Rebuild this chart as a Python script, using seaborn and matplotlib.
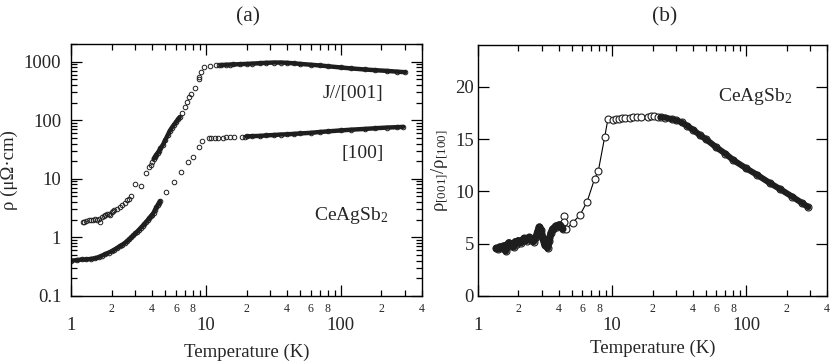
import numpy as np
import matplotlib
matplotlib.use('Agg')
import matplotlib.pyplot as plt
import matplotlib.ticker as mticker
import seaborn as sns

# ---- data ----
# panel (a): J//[001]
t001_low = [1.22, 1.25, 1.3, 1.35, 1.4, 1.45, 1.5, 1.55, 1.6, 1.65, 1.7, 1.75, 1.8,
            1.85, 1.9, 1.95, 2.0, 2.05, 2.1, 2.2, 2.3, 2.4, 2.5, 2.6, 2.7, 2.8]
r001_low = [1.85, 1.8, 1.9, 1.95, 1.95, 2.0, 2.05, 1.95, 2.1, 1.85, 2.25, 2.3, 2.4,
            2.5, 2.55, 2.45, 2.7, 2.8, 2.9, 3.05, 3.3, 3.6, 3.9, 4.3, 4.6, 5.0]
t001_gap = [2.98, 3.28, 3.57, 3.78, 3.9, 4.0]
r001_gap = [8.0, 7.45, 12.7, 15.9, 17.0, 19.0]
t001_rise = [4.1, 4.2, 4.3, 4.4, 4.5, 4.6, 4.8, 5.0, 5.2, 5.4, 5.6, 5.8, 6.0, 6.2, 6.4]
r001_rise = [22, 24, 26, 28, 30, 33, 38, 46, 55, 66, 75, 84, 93, 103, 113]
t001_knee = [6.7, 7.0, 7.2, 7.5, 7.7, 8.3, 8.85, 8.95, 9.2, 9.7, 10.7, 11.8, 12.5]
r001_knee = [135, 170, 205, 250, 285, 355, 500, 540, 670, 800, 850, 865, 870]
t001_high = [13, 14, 15, 16, 18, 20, 22, 25, 28, 32, 36, 40, 45, 50, 60, 70, 80,
             100, 120, 150, 180, 220, 260, 300]
r001_high = [875, 885, 890, 895, 905, 915, 925, 940, 955, 965, 965, 955, 935, 915,
             885, 860, 835, 795, 765, 735, 715, 695, 675, 660]

# panel (a): [100]
t100_low = [1.0, 1.1, 1.2, 1.3, 1.4, 1.5, 1.6, 1.7, 1.8, 1.9, 2.0, 2.1, 2.2, 2.3,
            2.4, 2.5, 2.6, 2.7, 2.8, 2.9, 3.0, 3.1, 3.2, 3.3, 3.4, 3.5, 3.6, 3.7,
            3.8, 3.9, 4.0, 4.1, 4.2, 4.3, 4.4, 4.5, 4.56]
r100_low = [0.40, 0.41, 0.42, 0.42, 0.43, 0.44, 0.46, 0.49, 0.52, 0.55, 0.58, 0.62,
            0.66, 0.71, 0.75, 0.80, 0.86, 0.93, 1.0, 1.08, 1.17, 1.26, 1.36, 1.47,
            1.58, 1.70, 1.83, 1.97, 2.12, 2.28, 2.45, 2.65, 2.95, 3.25, 3.6, 3.9, 4.15]
t100_gap = [5.08, 5.79, 6.5, 7.4, 7.96, 8.9, 9.4, 10.5, 11.0, 11.6, 12.3, 13.5,
            14.2, 15.0, 16.2, 18.4, 19.5]
r100_gap = [5.9, 8.7, 13, 19.4, 23.6, 35, 44, 49, 50, 50, 50, 50.5, 51, 51, 51.5,
            52, 52.5]
t100_high = [20, 22, 25, 28, 32, 36, 40, 45, 50, 60, 70, 80, 100, 120, 150, 180,
             220, 260, 290]
r100_high = [53, 53.5, 54, 55, 56, 57, 57.5, 58.5, 59.5, 61, 63, 64.5, 67, 69, 71,
             73, 75, 76, 77]

# panel (b): rho[001]/rho[100]
tb_low = [1.37, 1.42, 1.45, 1.5, 1.55, 1.61, 1.65, 1.7, 1.75, 1.8, 1.85, 1.9, 1.95,
          2.0, 2.1, 2.2, 2.3, 2.4, 2.5, 2.6, 2.7, 2.8, 2.87, 2.95, 3.05, 3.15, 3.31,
          3.4, 3.5, 3.6, 3.7, 3.8, 3.9, 4.0, 4.1, 4.2, 4.3]
rb_low = [4.55, 4.5, 4.7, 4.6, 4.8, 4.3, 4.9, 5.1, 4.8, 5.0, 4.7, 5.2, 5.0, 5.3,
          5.1, 5.5, 5.3, 5.6, 5.4, 5.2, 5.6, 6.2, 6.6, 6.3, 5.5, 4.9, 4.6, 5.3, 6.0,
          6.4, 6.5, 6.7, 6.6, 6.8, 6.8, 6.6, 6.4]
tb_mid = [4.35, 4.35, 4.54, 5.08, 5.76, 6.5, 7.4, 7.9, 8.8, 9.3, 10.2, 10.7, 11.2,
          11.8, 12.5, 13.5, 14.3, 15.2, 16.3, 18.5, 19.5, 20.5, 22]
rb_mid = [7.65, 7.1, 6.4, 7.0, 7.75, 9.0, 11.2, 12.0, 15.2, 16.9, 16.8, 16.9, 16.9,
          17.0, 17.0, 17.05, 17.1, 17.1, 17.1, 17.15, 17.2, 17.2, 17.15]
tb_high = [23, 25, 28, 30, 33, 36, 40, 45, 50, 60, 70, 80, 100, 120, 150, 180, 220,
           260, 290]
rb_high = [17.1, 17.05, 16.9, 16.8, 16.6, 16.3, 15.9, 15.4, 15.0, 14.2, 13.6, 13.0,
           12.2, 11.6, 10.8, 10.2, 9.5, 8.9, 8.5]

# ---- style ----
sns.set_theme(style='ticks')
plt.rcParams['font.family'] = ['Liberation Serif', 'DejaVu Serif']
plt.rcParams['mathtext.fontset'] = 'custom'
plt.rcParams['mathtext.rm'] = 'Liberation Serif'
plt.rcParams['mathtext.it'] = 'Liberation Serif:italic'

ink = '#1e1e1e'

fig = plt.figure(figsize=(8.3, 3.63), dpi=100)
ax1 = fig.add_axes([71 / 830, 67 / 363, 351 / 830, 252 / 363])
ax2 = fig.add_axes([478 / 830, 67 / 363, 349 / 830, 251 / 363])


def minor_label(v, pos):
    lead = v / 10 ** np.floor(np.log10(v) + 1e-9)
    lead = int(round(lead))
    return str(lead) if lead in (2, 4, 6, 8) else ''


def style_temp_axis(ax):
    ax.set_xscale('log')
    ax.set_xlim(1, 400)
    ax.xaxis.set_major_locator(mticker.FixedLocator([1, 10, 100]))
    ax.xaxis.set_major_formatter(mticker.FixedFormatter(['1', '10', '100']))
    minors = [m * 10 ** k for k in range(3) for m in range(2, 10) if m * 10 ** k <= 400]
    ax.xaxis.set_minor_locator(mticker.FixedLocator(minors))
    ax.xaxis.set_minor_formatter(mticker.FuncFormatter(minor_label))
    ax.tick_params(which='both', direction='in', top=True, right=True,
                   color='black', width=0.9)
    ax.tick_params(which='major', length=8)
    ax.tick_params(which='minor', length=4.5)
    ax.tick_params(axis='x', which='major', labelsize=13.5, pad=15)
    ax.tick_params(axis='x', which='minor', labelsize=8.5, pad=5)
    for s in ax.spines.values():
        s.set_linewidth(1.0)
        s.set_color('black')
    ax.set_facecolor('white')


# ---- panel (a) ----
t001 = t001_low + t001_gap + t001_rise + t001_knee + t001_high
r001 = r001_low + r001_gap + r001_rise + r001_knee + r001_high
t100 = t100_low + t100_gap + t100_high
r100 = r100_low + r100_gap + r100_high

for tt, rr in [(t001_rise, r001_rise), (t001_high, r001_high),
               (t100_low, r100_low), (t100_high, r100_high)]:
    sns.lineplot(x=tt, y=rr, ax=ax1, color=ink, lw=3.2, sort=False,
                 estimator=None, solid_capstyle='round')
for tt, rr in [(t001, r001), (t100, r100)]:
    sns.lineplot(x=tt, y=rr, ax=ax1, linestyle='none', marker='o', ms=3.3,
                 mfc='none', mec=ink, mew=0.7, sort=False, estimator=None)

style_temp_axis(ax1)
ax1.set_yscale('log')
ax1.set_ylim(0.1, 2000)
ax1.yaxis.set_major_locator(mticker.FixedLocator([0.1, 1, 10, 100, 1000]))
ax1.yaxis.set_major_formatter(mticker.FixedFormatter(['0.1', '1', '10', '100', '1000']))
ax1.yaxis.set_minor_locator(mticker.LogLocator(base=10, subs=np.arange(2, 10)))
ax1.yaxis.set_minor_formatter(mticker.NullFormatter())
ax1.tick_params(axis='y', which='major', labelsize=13.5, pad=7)
ax1.set_xlabel('Temperature (K)', fontsize=13.5, labelpad=7)
ax1.set_ylabel('ρ (μΩ·cm)', fontsize=13.5, labelpad=4)
ax1.text(0.89, 0.805, 'J//[001]', transform=ax1.transAxes, ha='right', va='center',
         fontsize=14)
ax1.text(0.89, 0.565, '[100]', transform=ax1.transAxes, ha='right', va='center',
         fontsize=14)
ax1.text(0.905, 0.32, 'CeAgSb$_2$', transform=ax1.transAxes, ha='right', va='center',
         fontsize=14)
fig.text(248 / 830, 1 - 17 / 363, '(a)', ha='center', va='center', fontsize=15.5)

# ---- panel (b) ----
tb = tb_low + tb_mid + tb_high
rb = rb_low + rb_mid + rb_high
sns.lineplot(x=tb, y=rb, ax=ax2, color='black', lw=0.8, sort=False, estimator=None)
sns.lineplot(x=tb, y=rb, ax=ax2, linestyle='none', marker='o', ms=5.0,
             mfc='white', mec=ink, mew=0.8, sort=False, estimator=None)
sns.lineplot(x=tb_low, y=rb_low, ax=ax2, color=ink, lw=5.2, sort=False,
             estimator=None, solid_capstyle='round')
sns.lineplot(x=tb_high, y=rb_high, ax=ax2, color=ink, lw=4.4, sort=False,
             estimator=None, solid_capstyle='round')

style_temp_axis(ax2)
ax2.set_ylim(0, 24)
ax2.yaxis.set_major_locator(mticker.FixedLocator([0, 5, 10, 15, 20]))
ax2.yaxis.set_minor_locator(mticker.NullLocator())
ax2.tick_params(axis='y', which='major', labelsize=13.5, pad=3)
ax2.set_xlabel('Temperature (K)', fontsize=13.5, labelpad=4)
ax2.set_ylabel('ρ$_{[001]}$/ρ$_{[100]}$', fontsize=13.5, labelpad=4)
ax2.text(0.9, 0.795, 'CeAgSb$_2$', transform=ax2.transAxes, ha='right', va='center',
         fontsize=14)
fig.text(665 / 830, 1 - 17 / 363, '(b)', ha='center', va='center', fontsize=15.5)

fig.savefig('out.png', dpi=100, facecolor='white')
